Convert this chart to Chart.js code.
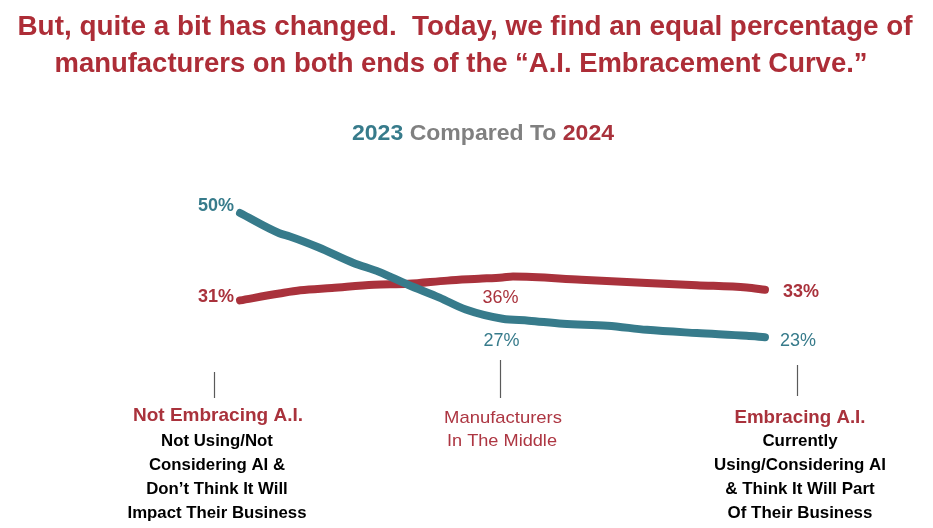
<!DOCTYPE html>
<html>
<head>
<meta charset="utf-8">
<script src="https://cdn.jsdelivr.net/npm/chart.js@4"></script>
<style>
  html, body { margin: 0; padding: 0; background: #ffffff; }
  canvas { display: block; }
</style>
</head>
<body>
<canvas id="curveChart" width="933" height="528"></canvas>
<script>
const categories = ["Not Embracing A.I.", "Manufacturers In The Middle", "Embracing A.I."];
const values2023 = [50, 27, 23];
const values2024 = [31, 36, 33];

// the curves were drawn by hand, so trace them at a few spots between the categories
// (x: 0 = left end, 1 = middle, 2 = right end)
const trace2023X = [0, 0.15, 0.19, 0.3, 0.43, 0.53, 0.64, 0.76, 0.86, 1, 1.1, 1.23, 1.4, 1.55, 1.74, 1.93, 2];
const trace2023Y = [50, 45.6, 44.9, 42.5, 39.2, 37.2, 34.4, 31.6, 29.0, 27, 26.6, 25.9, 25.5, 24.6, 23.9, 23.3, 23];
const trace2024X = [0, 0.15, 0.23, 0.35, 0.51, 0.64, 0.79, 0.91, 1, 1.04, 1.3, 1.55, 1.74, 1.93, 2];
const trace2024Y = [31, 32.5, 33.2, 33.7, 34.4, 34.6, 35.3, 35.7, 36, 36.2, 35.5, 34.8, 34.3, 33.8, 33.3];

const categoryNotes = [
  ["Not Using/Not", "Considering AI &", "Don\u2019t Think It Will", "Impact Their Business"],
  [],
  ["Currently", "Using/Considering AI", "& Think It Will Part", "Of Their Business"]
];

const TEAL = "#377b8b";
const RED = "#a9323c";
const TITLE_RED = "#ad2d37";
const GREY = "#808080";
const FONT = "'Liberation Sans', Arial, sans-serif";

const toPoints = (xs, ys) => xs.map((x, i) => ({ x, y: ys[i] }));

// draw text squeezed (or stretched) to a given width, like the narrow slide font
const fitText = (ctx, text, x, y, font, color, width, align = "center", baseline = "middle") => {
  ctx.save();
  ctx.font = font;
  ctx.fillStyle = color;
  ctx.textBaseline = baseline;
  const w = ctx.measureText(text).width;
  const k = width ? width / w : 1;
  let left = x;
  if (align === "center") left = x - (w * k) / 2;
  if (align === "right") left = x - w * k;
  ctx.translate(left, y);
  ctx.scale(k, 1);
  ctx.textAlign = "left";
  ctx.fillText(text, 0, 0);
  ctx.restore();
};

// several centred lines sharing one squeeze, set by the longest line
const fitBlock = (ctx, lines, cx, y0, step, font, color, longest) => {
  ctx.save();
  ctx.font = font;
  const widest = Math.max(...lines.map((t) => ctx.measureText(t).width));
  const k = longest / widest;
  ctx.restore();
  lines.forEach((t, i) => {
    ctx.save();
    ctx.font = font;
    const w = ctx.measureText(t).width;
    ctx.restore();
    fitText(ctx, t, cx, y0 + i * step, font, color, w * k);
  });
};

const textPlugin = {
  id: "slideText",
  afterDraw(chart) {
    const { ctx } = chart;
    const xs = chart.scales.x;
    const ys = chart.scales.y;

    // headline
    fitText(ctx, "But, quite a bit has changed.  Today, we find an equal percentage of",
      465, 35, "bold 28px " + FONT, TITLE_RED, 895, "center", "alphabetic");
    fitText(ctx, "manufacturers on both ends of the \u201cA.I. Embracement Curve.\u201d",
      461, 72, "bold 28px " + FONT, TITLE_RED, 813, "center", "alphabetic");

    // sub title in three colours
    const pieces = [["2023 ", TEAL], ["Compared To ", GREY], ["2024", RED]];
    ctx.save();
    ctx.font = "bold 22px " + FONT;
    const full = ctx.measureText(pieces.map((p) => p[0]).join("")).width;
    const k = 262 / full;
    let cursor = 352;
    ctx.textBaseline = "alphabetic";
    pieces.forEach(([t, c]) => {
      const w = ctx.measureText(t).width;
      ctx.save();
      ctx.translate(cursor, 140);
      ctx.scale(k, 1);
      ctx.fillStyle = c;
      ctx.fillText(t, 0, 0);
      ctx.restore();
      cursor += w * k;
    });
    ctx.restore();

    // value labels
    const px = (i) => xs.getPixelForValue(i);
    const py = (v) => ys.getPixelForValue(v);
    fitText(ctx, values2023[0] + "%", px(0) - 6, py(values2023[0]) - 7, "bold 18px " + FONT, TEAL, 0, "right");
    fitText(ctx, values2024[0] + "%", px(0) - 6, py(values2024[0]) - 3, "bold 18px " + FONT, RED, 0, "right");
    fitText(ctx, values2024[1] + "%", px(1) - 2, py(values2024[1]) + 21, "18px " + FONT, RED, 0);
    fitText(ctx, values2023[1] + "%", px(1) - 1, py(values2023[1]) + 22, "18px " + FONT, TEAL, 0);
    fitText(ctx, values2024[2] + "%", px(2) + 18, py(values2024[2]) + 1, "bold 18px " + FONT, RED, 0, "left");
    fitText(ctx, values2023[2] + "%", px(2) + 15, py(values2023[2]) + 4, "18px " + FONT, TEAL, 0, "left");

    // leader lines down to the category text
    ctx.save();
    ctx.strokeStyle = "#5a5a5a";
    ctx.lineWidth = 1.2;
    [[-0.1, 372, 398], [0.99, 360, 398], [2.12, 365, 396]].forEach(([v, y0, y1]) => {
      const x = Math.round(xs.getPixelForValue(v)) + 0.5;
      ctx.beginPath();
      ctx.moveTo(x, y0);
      ctx.lineTo(x, y1);
      ctx.stroke();
    });
    ctx.restore();

    // category blocks
    fitText(ctx, categories[0], 218, 416, "bold 19px " + FONT, RED, 170);
    fitText(ctx, "Manufacturers", 503, 418, "17px " + FONT, "#ad3642", 118);
    fitText(ctx, "In The Middle", 502, 441, "17px " + FONT, "#ad3642", 110);
    fitText(ctx, categories[2], 800, 418, "bold 19px " + FONT, RED, 131);

    fitBlock(ctx, categoryNotes[0], 217, 441, 24, "bold 17px " + FONT, "#000000", 179);
    fitBlock(ctx, categoryNotes[2], 800, 441, 24, "bold 17px " + FONT, "#000000", 172);
  }
};

new Chart(document.getElementById("curveChart"), {
  type: "line",
  data: {
    datasets: [
      {
        label: "2023",
        data: toPoints(trace2023X, trace2023Y),
        borderColor: TEAL,
        borderWidth: 8,
        pointRadius: 0,
        cubicInterpolationMode: "monotone",
        borderCapStyle: "round",
        borderJoinStyle: "round",
        clip: false
      },
      {
        label: "2024",
        data: toPoints(trace2024X, trace2024Y),
        borderColor: RED,
        borderWidth: 8,
        pointRadius: 0,
        cubicInterpolationMode: "monotone",
        borderCapStyle: "round",
        borderJoinStyle: "round",
        clip: false
      }
    ]
  },
  options: {
    responsive: false,
    animation: false,
    layout: { padding: { left: 240, right: 168, top: 167, bottom: 85 } },
    scales: {
      x: { type: "linear", min: 0, max: 2, display: false },
      y: { min: 0, max: 60, display: false }
    },
    plugins: {
      legend: { display: false },
      tooltip: { enabled: false }
    }
  },
  plugins: [textPlugin]
});
</script>
</body>
</html>
